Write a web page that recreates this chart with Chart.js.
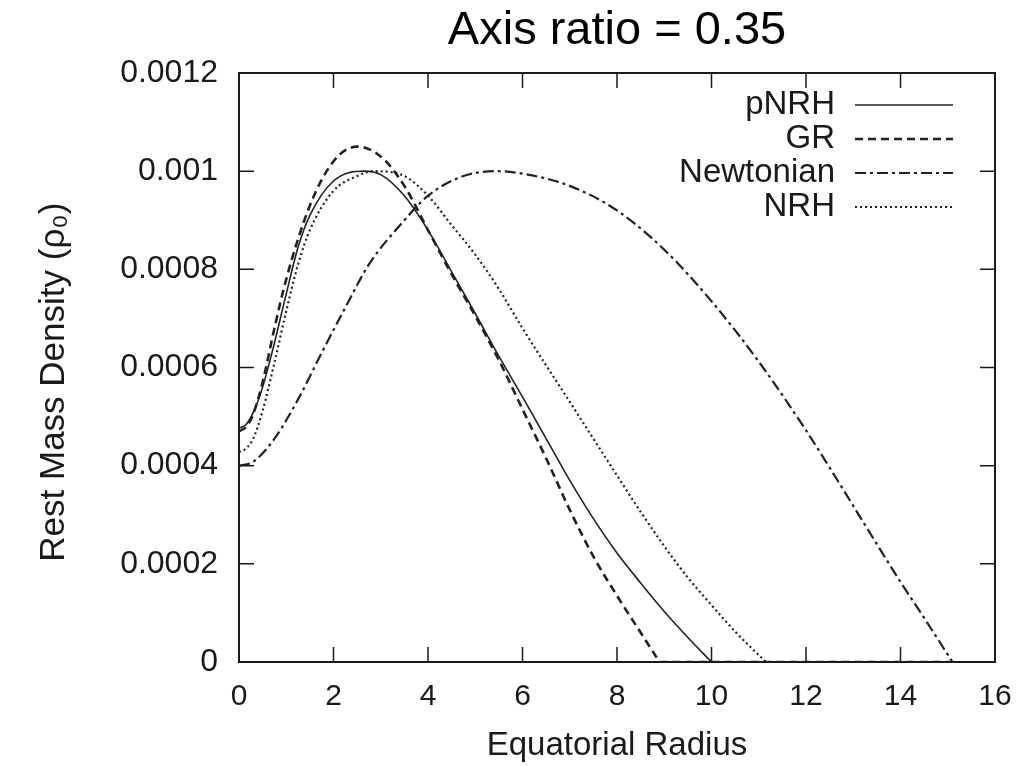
<!DOCTYPE html>
<html><head><meta charset="utf-8">
<script src="https://cdn.jsdelivr.net/npm/chart.js@4.4.1/dist/chart.umd.min.js"></script>
<style>html,body{margin:0;padding:0;background:#fff;}</style>
</head><body>
<canvas id="c" width="1032" height="766"></canvas>
<script>
const titleText = "Axis ratio = 0.35";
const xAxisLabel = "Equatorial Radius";
const yAxisLabel = "Rest Mass Density (ρ₀)\u00A0\u00A0\u00A0";
const seriesNames = ["pNRH", "GR", "Newtonian", "NRH"];
const xTickValues = [0, 2, 4, 6, 8, 10, 12, 14, 16];
const xTickLabels = ["0", "2", "4", "6", "8", "10", "12", "14", "16"];
const yTickValues = [0, 0.0002, 0.0004, 0.0006, 0.0008, 0.001, 0.0012];
const yTickLabels = ["0", "0.0002", "0.0004", "0.0006", "0.0008", "0.001", "0.0012"];

const pnrhX = [0, 0.15, 0.3, 0.5, 0.75, 1, 1.25, 1.5, 2, 2.65, 3, 3.5, 4, 4.5, 5, 5.5, 6, 6.5, 7, 7.5, 8, 8.5, 9, 9.5, 10, 15.1];
const pnrhY = [0.000476, 0.000484, 0.000508, 0.00056, 0.00065, 0.00075, 0.000845, 0.00091, 0.00098, 0.001, 0.000993, 0.00095, 0.00088, 0.000795, 0.00071, 0.000623, 0.00054, 0.000455, 0.00037, 0.000292, 0.000222, 0.000161, 0.000103, 0.00005, 0, 0];

const grX = [0, 0.15, 0.3, 0.5, 0.75, 1, 1.5, 2, 2.5, 3, 3.5, 4, 4.5, 5, 5.5, 6, 6.5, 7, 7.5, 8, 8.5, 8.9, 15.1];
const grY = [0.00047, 0.000479, 0.000505, 0.00057, 0.00068, 0.00078, 0.00093, 0.00102, 0.00105, 0.00103, 0.00097, 0.00088, 0.00079, 0.000705, 0.000615, 0.000515, 0.000415, 0.00031, 0.000215, 0.000135, 0.00006, 0, 0];

const newtX = [0, 0.3, 0.75, 1.25, 1.75, 2.25, 2.75, 3.5, 4, 4.75, 5.45, 6, 7, 8, 9, 10, 11, 12, 12.5, 13, 13.5, 14, 14.5, 15.1];
const newtY = [0.0004, 0.000408, 0.000455, 0.000535, 0.00063, 0.000722, 0.00081, 0.0009, 0.00095, 0.00099, 0.001, 0.000995, 0.00097, 0.00092, 0.00084, 0.000735, 0.000612, 0.000472, 0.000396, 0.000318, 0.00024, 0.000163, 0.00009, 0];

const nrhX = [0, 0.15, 0.3, 0.5, 0.75, 1, 1.25, 1.5, 2, 2.5, 2.85, 3.5, 4, 4.5, 5, 5.5, 6, 7, 8, 8.5, 9, 9.5, 10, 10.5, 11.15, 15.1];
const nrhY = [0.000428, 0.000435, 0.000455, 0.000512, 0.00061, 0.000715, 0.00081, 0.00088, 0.00096, 0.00099, 0.001, 0.00099, 0.00095, 0.00089, 0.00083, 0.00076, 0.00068, 0.00053, 0.00038, 0.000306, 0.000236, 0.000172, 0.000116, 0.000062, 0, 0];

const FONT = "'Liberation Sans', Arial, Helvetica, sans-serif";
const INK = "#1a1a1a";

function pts(xs, ys) { return xs.map((x, i) => ({ x: x, y: ys[i] })); }

const styles = [
  { borderDash: [], borderWidth: 1.6 },
  { borderDash: [8, 5], borderWidth: 2.6 },
  { borderDash: [11, 4, 3, 4], borderWidth: 2.2 },
  { borderDash: [2, 3], borderWidth: 2.2 }
];
const seriesX = [pnrhX, grX, newtX, nrhX];
const seriesY = [pnrhY, grY, newtY, nrhY];

const datasets = [];
seriesNames.forEach((name, i) => {
  const all = pts(seriesX[i], seriesY[i]);
  const k = seriesY[i].indexOf(0);
  const curve = all.slice(0, k + 1);
  const tail = all.slice(k);
  const base = {
    borderColor: "#222",
    backgroundColor: "#222",
    borderWidth: styles[i].borderWidth,
    borderDash: styles[i].borderDash,
    pointRadius: 0,
    fill: false
  };
  datasets.push(Object.assign({}, base, { label: name, inLegend: true, data: curve, tension: 0.4, cubicInterpolationMode: "monotone" }));
  if (tail.length > 1) datasets.push(Object.assign({}, base, { label: name + " (zero)", inLegend: false, data: tail, tension: 0 }));
});

const framePlugin = {
  id: "frameAndLegend",
  afterDatasetsDraw(chart) {
    const { ctx, chartArea: a, scales } = chart;
    const xs = scales.x, ys = scales.y;
    ctx.save();
    ctx.strokeStyle = INK;
    ctx.lineWidth = 2;
    ctx.setLineDash([]);
    ctx.strokeRect(a.left, a.top, a.right - a.left, a.bottom - a.top);
    const L = 15;
    ctx.lineWidth = 1.5;
    ctx.beginPath();
    xs.ticks.forEach(t => {
      if (t.value <= xs.min || t.value >= xs.max) return;
      const p = xs.getPixelForValue(t.value);
      ctx.moveTo(p, a.bottom); ctx.lineTo(p, a.bottom - L);
      ctx.moveTo(p, a.top); ctx.lineTo(p, a.top + L);
    });
    ys.ticks.forEach(t => {
      if (t.value <= ys.min || t.value >= ys.max) return;
      const p = ys.getPixelForValue(t.value);
      ctx.moveTo(a.left, p); ctx.lineTo(a.left + L, p);
      ctx.moveTo(a.right, p); ctx.lineTo(a.right - L, p);
    });
    ctx.stroke();
    // legend (top-right, inside plot)
    ctx.font = "33px " + FONT;
    ctx.fillStyle = INK;
    ctx.textAlign = "right";
    ctx.textBaseline = "middle";
    const textRight = a.right - 160, sampleL = a.right - 140, sampleR = a.right - 42;
    chart.data.datasets.filter(ds => ds.inLegend).forEach((ds, i) => {
      const yy = a.top + 32 + i * 34;
      ctx.fillText(ds.label, textRight, yy);
      ctx.strokeStyle = ds.borderColor;
      ctx.lineWidth = ds.borderWidth;
      ctx.setLineDash(ds.borderDash);
      ctx.beginPath();
      ctx.moveTo(sampleL, yy); ctx.lineTo(sampleR, yy);
      ctx.stroke();
    });
    ctx.restore();
  }
};

new Chart(document.getElementById("c"), {
  type: "line",
  data: { datasets: datasets },
  options: {
    responsive: false,
    animation: false,
    devicePixelRatio: 1,
    layout: { padding: { left: 0, right: 37, top: 0, bottom: 0 } },
    plugins: {
      legend: { display: false },
      tooltip: { enabled: false },
      title: {
        display: true,
        text: titleText,
        fullSize: false,
        color: "#000",
        font: { family: FONT, size: 47, weight: "normal" },
        padding: { top: 3, bottom: 13.6 }
      }
    },
    scales: {
      x: {
        type: "linear",
        min: 0, max: 16,
        afterFit(s) { s.height = 104; },
        afterBuildTicks(s) { s.ticks = xTickValues.map(v => ({ value: v })); },
        grid: { display: false, drawTicks: false },
        border: { display: false },
        ticks: {
          autoSkip: false, maxRotation: 0, padding: 17, color: INK,
          font: { family: FONT, size: 30 },
          callback: (v) => { const i = xTickValues.indexOf(v); return i >= 0 ? xTickLabels[i] : ""; }
        },
        title: {
          display: true, text: xAxisLabel, color: INK,
          font: { family: FONT, size: 33 },
          padding: { top: 0, bottom: 0 }
        }
      },
      y: {
        min: 0, max: 0.0012,
        afterFit(s) { s.width = 239; },
        afterBuildTicks(s) { s.ticks = yTickValues.map(v => ({ value: v })); },
        grid: { display: false, drawTicks: false },
        border: { display: false },
        ticks: {
          autoSkip: false, padding: 21, color: INK,
          font: { family: FONT, size: 32 },
          callback: (v) => { const i = yTickValues.findIndex(t => Math.abs(t - v) < 1e-9); return i >= 0 ? yTickLabels[i] : ""; }
        },
        title: {
          display: true, text: yAxisLabel, color: INK,
          font: { family: FONT, size: 35 },
          padding: { top: 33, bottom: 0 }
        }
      }
    }
  },
  plugins: [framePlugin]
});
</script>
</body></html>
